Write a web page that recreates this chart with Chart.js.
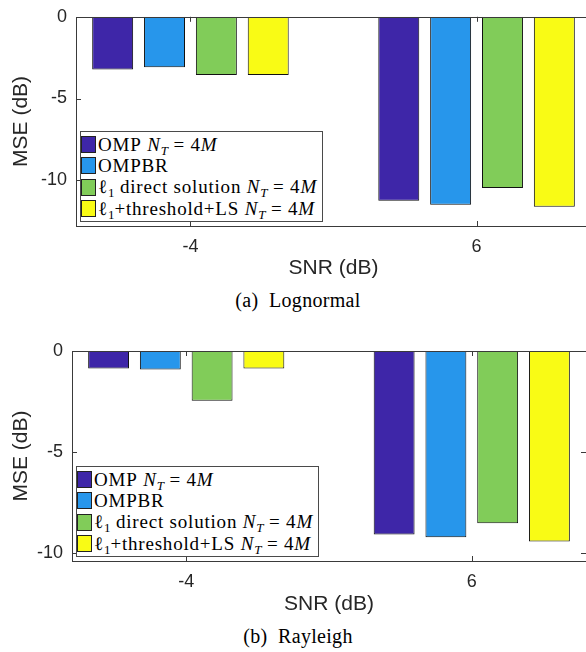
<!DOCTYPE html>
<html>
<head>
<meta charset="utf-8">
<script src="https://cdn.jsdelivr.net/npm/chart.js@4/dist/chart.umd.min.js"></script>
<style>
  html, body { margin: 0; padding: 0; background: #fff; overflow: hidden; }
  body { position: relative; width: 586px; height: 652px; }
  canvas { position: absolute; left: 0; }
  .legend { position: absolute; box-sizing: border-box; border: 1px solid #4a4a4a; background: #fff;
            font-family: "Liberation Serif", "DejaVu Serif", serif; font-size: 19px; letter-spacing: 0.8px;
            color: #000; padding-top: 2px; }
  .legend .row { height: 21.3px; display: flex; align-items: center; white-space: nowrap; }
  .legend .sw { width: 15px; height: 17px; box-sizing: border-box; border: 1px solid #222; margin-right: 2px; flex: none; }
  .legend sub { font-size: 13px; vertical-align: -4px; line-height: 0; letter-spacing: 0; }
  .caption { position: absolute; width: 586px; left: 5px; text-align: center;
             font-family: "Liberation Serif", serif; font-size: 20px; letter-spacing: 0.3px; color: #000; }
</style>
</head>
<body>
<canvas id="grafLognormal" width="600" height="289" style="top:-3px"></canvas>
<div class="caption" style="top:289px">(a)&nbsp; Lognormal</div>
<canvas id="grafRayleigh" width="600" height="292" style="top:330px"></canvas>
<div class="caption" style="top:625px">(b)&nbsp; Rayleigh</div>
<script>
// Categorias (SNR em dB) e marcas do eixo y
const snrNiveis = [-4, 6];
const yMarcas = [-10, -5, 0];

// Séries: nomes, legenda (com notação) e cores (parula)
const nomesSeries = ['OMP N_T = 4M', 'OMPBR', 'ℓ1 direct solution N_T = 4M', 'ℓ1+threshold+LS N_T = 4M'];
const legendaSeries = [
    'OMP&nbsp;<i>N</i><sub><i>T</i></sub>&nbsp;=&nbsp;4<i>M</i>',
    'OMPBR',
    'ℓ<sub>1</sub>&nbsp;direct solution&nbsp;<i>N</i><sub><i>T</i></sub>&nbsp;=&nbsp;4<i>M</i>',
    'ℓ<sub>1</sub>+threshold+LS&nbsp;<i>N</i><sub><i>T</i></sub>&nbsp;=&nbsp;4<i>M</i>'
];
const coresSeries = ['#3E26A8', '#2796EB', '#81CC59', '#F9FB15'];

// MSE (dB) - Lognormal
const lognOmp = [-3.23, -11.25];
const lognOmpbr = [-3.09, -11.5];
const lognL1Direct = [-3.56, -10.48];
const lognL1Thr = [-3.56, -11.62];

// MSE (dB) - Rayleigh
const rayOmp = [-0.87, -9.09];
const rayOmpbr = [-0.92, -9.22];
const rayL1Direct = [-2.46, -8.53];
const rayL1Thr = [-0.87, -9.44];

const corEixo = '#262626';
const fonteEixo = 'Liberation Sans, Arial, sans-serif';

// Moldura (box on) e marcas para dentro, como no MATLAB
const molduraPlugin = {
    id: 'moldura',
    afterDraw(chart) {
        const { ctx, chartArea: a, scales: { x, y } } = chart;
        const t = 5;
        ctx.save();
        ctx.strokeStyle = '#3a3a3a';
        ctx.lineWidth = 1;
        ctx.strokeRect(Math.round(a.left) + 0.5, Math.round(a.top) + 0.5,
            Math.round(a.right - a.left), Math.round(a.bottom - a.top));
        ctx.beginPath();
        x.ticks.forEach(tk => {
            const px = Math.round(x.getPixelForValue(tk.value)) + 0.5;
            ctx.moveTo(px, a.top); ctx.lineTo(px, a.top + t);
            ctx.moveTo(px, a.bottom); ctx.lineTo(px, a.bottom - t);
        });
        y.ticks.forEach(tk => {
            const py = Math.round(y.getPixelForValue(tk.value)) + 0.5;
            ctx.moveTo(a.left, py); ctx.lineTo(a.left + t, py);
            ctx.moveTo(a.right, py); ctx.lineTo(a.right - t, py);
        });
        ctx.stroke();
        ctx.restore();
    }
};

function criarGrafico(id, series, yMin, cfg) {
    const datasets = series.map((valores, i) => ({
        label: nomesSeries[i],
        data: valores.map((v, k) => ({ x: snrNiveis[k], y: v })),
        backgroundColor: coresSeries[i],
        borderColor: '#111',
        borderWidth: 1,
        borderSkipped: 'start',
        categoryPercentage: 0.725,
        barPercentage: 0.79
    }));

    return new Chart(document.getElementById(id).getContext('2d'), {
        type: 'bar',
        data: { datasets: datasets },
        plugins: [molduraPlugin],
        options: {
            responsive: false,
            animation: false,
            layout: { padding: { left: 0, top: cfg.top, right: cfg.right, bottom: 0 } },
            plugins: { legend: { display: false }, tooltip: { enabled: false } },
            scales: {
                x: {
                    type: 'linear',
                    min: -8,
                    max: 10,
                    offset: false,
                    afterBuildTicks: s => { s.ticks = snrNiveis.map(v => ({ value: v })); },
                    afterFit: s => { s.height = cfg.xAltura; },
                    grid: { display: false, drawTicks: false },
                    border: { display: false },
                    ticks: { color: corEixo, font: { family: fonteEixo, size: 18 }, padding: 10,
                             callback: v => String(v) },
                    title: { display: true, text: 'SNR (dB)', color: corEixo,
                             font: { family: fonteEixo, size: 21 }, padding: { top: 0, bottom: 5 } }
                },
                y: {
                    min: yMin,
                    max: 0,
                    afterBuildTicks: s => { s.ticks = yMarcas.map(v => ({ value: v })); },
                    afterFit: s => { s.width = cfg.yLargura; },
                    grid: { display: false, drawTicks: false },
                    border: { display: false },
                    ticks: { color: corEixo, font: { family: fonteEixo, size: 18 }, padding: 9,
                             callback: v => String(v) },
                    title: { display: true, text: 'MSE (dB)', color: corEixo,
                             font: { family: fonteEixo, size: 21 }, padding: { top: 9, bottom: 0 } }
                }
            }
        }
    });
}

// Legenda em HTML (para N_T e ℓ1 com subscritos)
function criarLegenda(left, top) {
    const div = document.createElement('div');
    div.className = 'legend';
    div.style.left = left + 'px';
    div.style.top = top + 'px';
    div.style.width = '243px';
    div.style.height = '91px';
    legendaSeries.forEach((txt, i) => {
        const row = document.createElement('div');
        row.className = 'row';
        row.innerHTML = '<span class="sw" style="background:' + coresSeries[i] + '"></span><span>' + txt + '</span>';
        div.appendChild(row);
    });
    document.body.appendChild(div);
}

criarGrafico('grafLognormal', [lognOmp, lognOmpbr, lognL1Direct, lognL1Thr], -12.8,
    { top: 18, right: 9, xAltura: 60, yLargura: 76 });
criarGrafico('grafRayleigh', [rayOmp, rayOmpbr, rayL1Direct, rayL1Thr], -10.4,
    { top: 21, right: 14, xAltura: 61, yLargura: 72 });

criarLegenda(80, 131);
criarLegenda(76, 466);
</script>
</body>
</html>
